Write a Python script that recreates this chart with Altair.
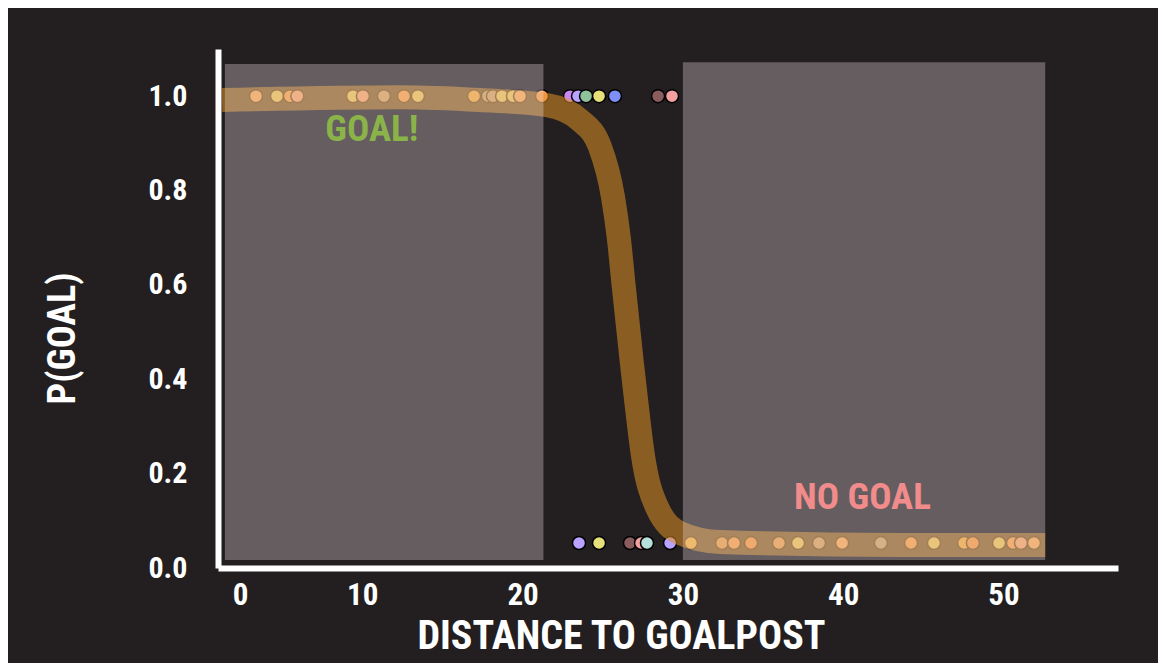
import altair as alt
import pandas as pd

# ---- data ----
top_x = [3.37, 4.68, 5.49, 5.95, 9.42, 10.04, 11.35, 12.6, 13.47, 16.97, 17.84, 18.15,
         18.72, 19.4, 19.84, 21.21, 22.96, 23.46, 23.96, 24.77, 25.76, 28.45, 29.32]
top_color = ["#ffb07a", "#e6e07a", "#ff9a5c", "#f4a0a0", "#e6e07a", "#f4a0a0", "#b8a08c",
             "#ff9a5c", "#e6e07a", "#f5b04a", "#a8a098", "#b8a08c", "#e6e07a", "#e6e07a",
             "#ffb07a", "#ff9a5c", "#cc88f0", "#b9a3ff", "#8fc49a", "#e6e07a", "#7e8ff5",
             "#8b5c5e", "#f4a0a0"]
top_y = 1.0

bottom_x = [23.52, 24.77, 26.7, 27.39, 27.76, 29.2, 30.5, 32.44, 33.19, 34.25, 35.99, 37.18,
            38.49, 39.93, 42.35, 44.23, 45.66, 47.54, 48.09, 49.72, 50.59, 51.09, 51.9]
bottom_color = ["#b9a3ff", "#e6e07a", "#8b5c5e", "#f4a0a0", "#b5e0dc", "#b9a3ff", "#f5c04a",
                "#e0955c", "#ff9a5c", "#ff8a4a", "#e89a66", "#e6e07a", "#b8a08c", "#ffb07a",
                "#a8a098", "#ff9a5c", "#e6e07a", "#f5b04a", "#ff8a4a", "#e6e07a", "#ff9a5c",
                "#f4a0a0", "#ffb07a"]
bottom_y = 0.053

curve_x = [1.25, 12.35, 17.34, 21.52, 23.58, 24.83, 25.64, 26.0, 26.3, 26.55, 26.8, 27.1,
           27.5, 28.38, 29.82, 32.31, 43.5, 52.6]
curve_y = [0.992, 0.998, 0.992, 0.981, 0.949, 0.892, 0.786, 0.70, 0.60, 0.52, 0.44, 0.35,
           0.24, 0.129, 0.074, 0.055, 0.049, 0.049]

rect_x = [1.43, 30.0]
rect_x2 = [21.3, 52.6]
rect_y = [0.017, 0.017]
rect_y2 = [1.068, 1.072]

label_text = ["GOAL!", "NO GOAL"]
label_x = [10.6, 41.2]
label_y = [0.928, 0.148]
label_color = ["#8ab34a", "#f28c8c"]

x_ticks = [2.37, 10, 20, 30, 40, 50]
y_ticks = [0.0, 0.2, 0.4, 0.6, 0.8, 1.0]

FONT = ("Roboto Condensed, Open Sans Condensed, Liberation Sans Narrow, Arial Narrow, "
        "Liberation Sans, sans-serif")

dots = pd.DataFrame({
    "x": top_x + bottom_x,
    "y": [top_y] * len(top_x) + [bottom_y] * len(bottom_x),
    "c": top_color + bottom_color,
})
curve = pd.DataFrame({"x": curve_x, "y": curve_y})
rects = pd.DataFrame({"x": rect_x, "x2": rect_x2, "y": rect_y, "y2": rect_y2})
labels = pd.DataFrame({"t": label_text, "x": label_x, "y": label_y, "c": label_color})

xs = alt.Scale(domain=[1.0, 57.14], nice=False, zero=False)
ys = alt.Scale(domain=[0, 1.1], nice=False, zero=False)

xaxis = alt.Axis(values=x_ticks, labelExpr="datum.value < 5 ? '0' : datum.label",
                 title="DISTANCE TO GOALPOST", grid=False, ticks=False, tickSize=0,
                 domainColor="white", domainWidth=6, labelColor="white", labelFont=FONT,
                 labelFontSize=31, labelFontWeight="bold", labelPadding=12,
                 titleColor="white", titleFont=FONT, titleFontSize=40, titleFontWeight="bold",
                 titleX=403, titleY=48)
yaxis = alt.Axis(values=y_ticks, format=".1f", title="P(GOAL)", grid=False, ticks=False,
                 tickSize=0, domainColor="white", domainWidth=6, labelColor="white",
                 labelFont=FONT, labelFontSize=30, labelFontWeight="bold", labelPadding=31,
                 titleColor="white", titleFont=FONT, titleFontSize=38, titleFontWeight="bold",
                 titleX=-136, titleY=289, titleAngle=-90)

dot_layer = alt.Chart(dots).mark_circle(size=170, opacity=1, stroke="black", strokeWidth=1.5).encode(
    x=alt.X("x:Q", scale=xs, axis=xaxis),
    y=alt.Y("y:Q", scale=ys, axis=yaxis),
    color=alt.Color("c:N", scale=None),
)

band = alt.Chart(curve).mark_line(strokeWidth=24, color="#e09124", opacity=0.55,
                                  interpolate="monotone", strokeCap="butt").encode(
    x=alt.X("x:Q", scale=xs), y=alt.Y("y:Q", scale=ys)
)

rect_layer = alt.Chart(rects).mark_rect(color="#f8eaec", opacity=0.31).encode(
    x=alt.X("x:Q", scale=xs), x2="x2:Q", y=alt.Y("y:Q", scale=ys), y2="y2:Q"
)

text_layer = alt.Chart(labels).mark_text(font=FONT, fontSize=37, fontWeight="bold").encode(
    x=alt.X("x:Q", scale=xs), y=alt.Y("y:Q", scale=ys),
    text="t:N", color=alt.Color("c:N", scale=None),
)

chart = alt.layer(dot_layer, band, rect_layer, text_layer).properties(
    width=900, height=519,
    background="#231f20",
    padding={"left": 210, "top": 41, "right": 40, "bottom": 95},
    autosize=alt.AutoSizeParams(type="none"),
).configure_view(stroke=None)

chart.save("out.html", embed_options={"renderer": "svg", "actions": False})
